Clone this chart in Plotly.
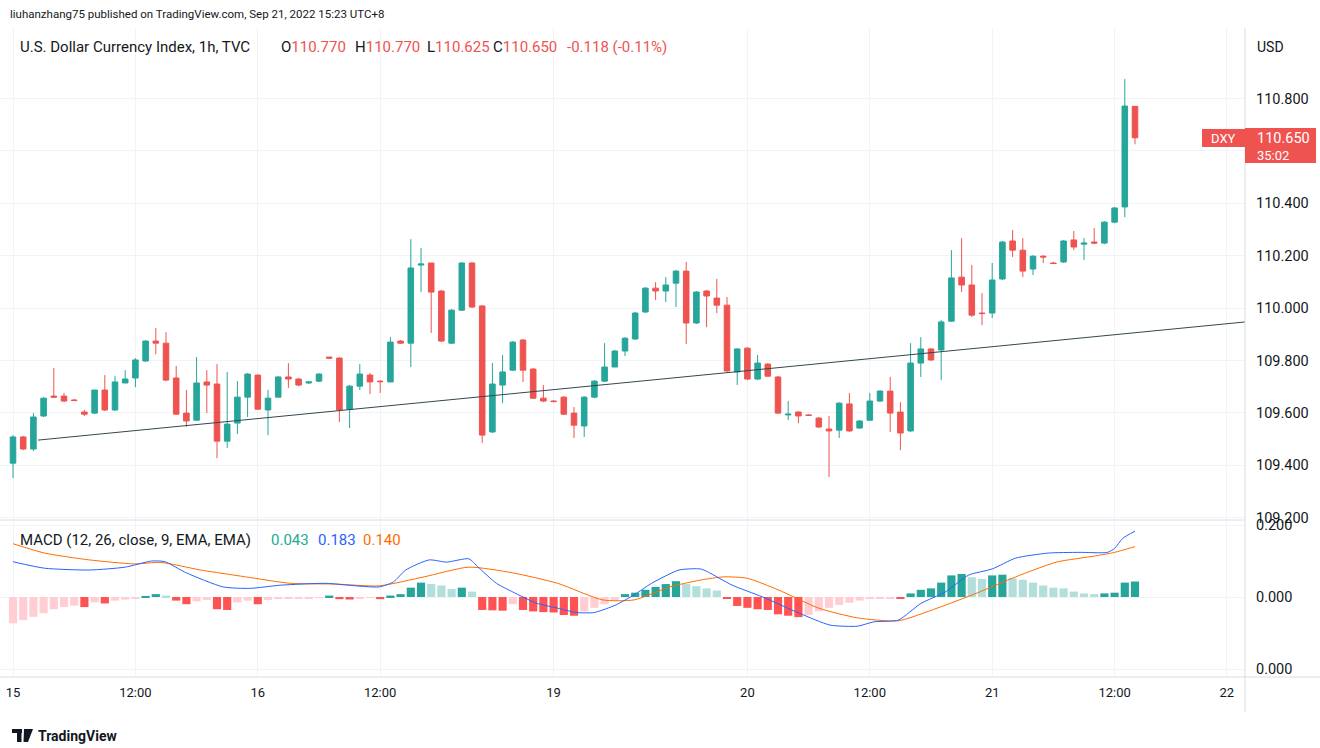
import plotly.graph_objects as go

# hourly DXY bars, index 0 = Sep 15 00:00 (UTC+8); Fri close -> Mon open gap collapsed
bar_open = [
    109.408, 109.508, 109.462, 109.588, 109.664, 109.664, 109.649, 109.603, 109.599, 109.687,
    109.611, 109.714, 109.733, 109.798, 109.874, 109.866, 109.733, 109.599, 109.572, 109.718,
    109.710, 109.492, 109.561, 109.660, 109.744, 109.611, 109.660, 109.737, 109.729, 109.714,
    109.721, 109.813, 109.809, 109.614, 109.702, 109.744, 109.721, 109.718, 109.874, 109.866,
    110.164, 110.172, 110.065, 109.866, 109.992, 110.172, 110.008, 109.527, 109.706, 109.763,
    109.878, 109.767, 109.656, 109.645, 109.660, 109.599, 109.550, 109.660, 109.721, 109.775,
    109.836, 109.882, 109.985, 110.076, 110.065, 110.095, 110.141, 109.943, 110.065, 110.038,
    110.011, 109.756, 109.847, 109.729, 109.786, 109.737, 109.592, 109.603, 109.592, 109.580,
    109.538, 109.534, 109.634, 109.542, 109.572, 109.645, 109.683, 109.603, 109.531, 109.790,
    109.844, 109.840, 109.950, 110.118, 110.088, 109.981, 109.981, 110.111, 110.256, 110.221,
    110.149, 110.198, 110.172, 110.176, 110.260, 110.244, 110.252, 110.248, 110.328, 110.386,
    110.770,
]
bar_high = [
    109.515, 109.512, 109.599, 109.660, 109.771, 109.676, 109.653, 109.611, 109.687, 109.744,
    109.740, 109.763, 109.809, 109.878, 109.924, 109.908, 109.779, 109.687, 109.813, 109.763,
    109.786, 109.756, 109.721, 109.752, 109.748, 109.687, 109.740, 109.790, 109.733, 109.721,
    109.752, 109.813, 109.813, 109.706, 109.786, 109.752, 109.725, 109.889, 109.878, 110.263,
    110.229, 110.172, 110.069, 109.996, 110.176, 110.176, 110.011, 109.790, 109.821, 109.874,
    109.882, 109.771, 109.706, 109.649, 109.664, 109.622, 109.664, 109.725, 109.866, 109.840,
    109.889, 109.985, 110.080, 110.099, 110.118, 110.145, 110.176, 110.065, 110.069, 110.111,
    110.042, 109.847, 109.851, 109.821, 109.790, 109.740, 109.645, 109.607, 109.595, 109.584,
    109.588, 109.641, 109.676, 109.572, 109.676, 109.687, 109.737, 109.641, 109.866, 109.889,
    109.847, 109.954, 110.221, 110.267, 110.164, 110.057, 110.172, 110.256, 110.298, 110.267,
    110.202, 110.202, 110.176, 110.260, 110.294, 110.267, 110.305, 110.332, 110.386, 110.874,
    110.770,
]
bar_low = [
    109.351, 109.458, 109.454, 109.584, 109.660, 109.641, 109.645, 109.588, 109.595, 109.607,
    109.607, 109.714, 109.698, 109.794, 109.824, 109.721, 109.592, 109.546, 109.569, 109.599,
    109.427, 109.466, 109.519, 109.584, 109.611, 109.515, 109.660, 109.695, 109.702, 109.710,
    109.718, 109.805, 109.565, 109.542, 109.687, 109.672, 109.676, 109.718, 109.863, 109.775,
    110.061, 109.905, 109.870, 109.863, 109.989, 110.000, 109.485, 109.523, 109.637, 109.760,
    109.718, 109.653, 109.641, 109.641, 109.592, 109.504, 109.508, 109.656, 109.718, 109.775,
    109.817, 109.878, 109.981, 110.031, 110.023, 110.004, 109.863, 109.939, 109.927, 109.981,
    109.756, 109.706, 109.725, 109.725, 109.737, 109.595, 109.572, 109.561, 109.588, 109.542,
    109.355, 109.504, 109.527, 109.538, 109.569, 109.641, 109.527, 109.458, 109.527, 109.737,
    109.798, 109.725, 109.947, 110.061, 109.966, 109.935, 109.962, 110.107, 110.195, 110.118,
    110.126, 110.172, 110.168, 110.172, 110.221, 110.183, 110.244, 110.244, 110.324, 110.347,
    110.625,
]
bar_close = [
    109.508, 109.462, 109.584, 109.656, 109.660, 109.645, 109.647, 109.595, 109.687, 109.611,
    109.718, 109.729, 109.802, 109.874, 109.866, 109.725, 109.595, 109.569, 109.714, 109.706,
    109.492, 109.557, 109.660, 109.748, 109.614, 109.656, 109.737, 109.729, 109.706, 109.718,
    109.748, 109.809, 109.611, 109.702, 109.748, 109.718, 109.719, 109.870, 109.866, 110.153,
    110.168, 110.061, 109.874, 109.992, 110.172, 110.004, 109.515, 109.710, 109.756, 109.870,
    109.763, 109.656, 109.645, 109.643, 109.595, 109.553, 109.660, 109.721, 109.775, 109.836,
    109.885, 109.981, 110.076, 110.065, 110.088, 110.141, 109.943, 110.061, 110.046, 110.011,
    109.760, 109.844, 109.729, 109.790, 109.740, 109.599, 109.595, 109.588, 109.590, 109.546,
    109.531, 109.637, 109.531, 109.569, 109.645, 109.683, 109.599, 109.523, 109.790, 109.844,
    109.802, 109.947, 110.115, 110.088, 109.973, 109.979, 110.107, 110.252, 110.221, 110.141,
    110.198, 110.195, 110.170, 110.256, 110.233, 110.248, 110.248, 110.328, 110.382, 110.771,
    110.650,
]

# MACD histogram, one value per bar
macd_hist = [
    -0.073, -0.064, -0.055, -0.045, -0.034, -0.028, -0.024, -0.028, -0.015, -0.018,
    -0.010, -0.007, -0.004, 0.003, 0.008, 0.004, -0.010, -0.020, -0.012, -0.008,
    -0.034, -0.036, -0.015, -0.010, -0.020, -0.008, -0.006, -0.005, -0.004, -0.003,
    -0.002, 0.004, -0.006, -0.007, -0.003, -0.002, -0.006, 0.004, 0.008, 0.026,
    0.040, 0.036, 0.032, 0.022, 0.026, 0.015, -0.036, -0.037, -0.038, -0.020,
    -0.036, -0.040, -0.042, -0.043, -0.050, -0.052, -0.040, -0.030, -0.020, -0.010,
    0.008, 0.012, 0.020, 0.028, 0.036, 0.044, 0.036, 0.030, 0.024, 0.018,
    -0.005, -0.025, -0.030, -0.034, -0.036, -0.048, -0.052, -0.056, -0.050, -0.040,
    -0.030, -0.022, -0.016, -0.010, -0.006, -0.004, -0.003, -0.005, 0.010, 0.020,
    0.024, 0.040, 0.060, 0.064, 0.055, 0.050, 0.060, 0.062, 0.052, 0.048,
    0.040, 0.032, 0.026, 0.024, 0.015, 0.010, 0.008, 0.010, 0.012, 0.040,
    0.043,
]

# MACD / signal lines, read at sample bars
macd_idx = [0, 3.1, 7.5, 11, 13.6, 14.9, 17, 20.6, 23.2, 26.3, 30.7, 32.8, 35.9, 37.3,
            38.5, 40.8, 42.5, 44.7, 45.6, 47.4, 49, 51.3, 53.4, 55.2, 57, 59.1, 60.9,
            62.6, 65.3, 67.4, 68.1, 70.5, 73.5, 77.1, 80.1, 82.8, 84.4, 86.8, 89, 91.4,
            93.7, 96, 98.3, 101.5, 104.5, 107.3, 108, 108.8, 110]
macd_line = [0.098, 0.080, 0.075, 0.083, 0.100, 0.098, 0.067, 0.028, 0.024, 0.033, 0.038,
             0.033, 0.028, 0.042, 0.075, 0.103, 0.097, 0.106, 0.083, 0.038, 0.014, -0.017,
             -0.031, -0.043, -0.043, -0.022, 0.006, 0.038, 0.075, 0.078, 0.070, 0.033, 0.0,
             -0.045, -0.078, -0.081, -0.069, -0.064, -0.018, 0.014, 0.061, 0.078, 0.108,
             0.122, 0.124, 0.124, 0.135, 0.163, 0.183]
signal_idx = [0, 3.1, 7.5, 11.9, 14.5, 18.4, 22.8, 27.2, 31.6, 35.9, 40.3, 44.7, 49, 53.4,
              57.8, 60.9, 64.4, 67.4, 69.7, 72, 75.1, 79, 82.8, 86.8, 90.6, 94.5, 98.3,
              102.3, 106.1, 108, 110]
signal_line = [0.148, 0.122, 0.103, 0.092, 0.096, 0.075, 0.056, 0.038, 0.036, 0.031, 0.056,
               0.083, 0.067, 0.038, -0.008, -0.008, 0.028, 0.047, 0.056, 0.052, 0.019, -0.031,
               -0.058, -0.066, -0.031, 0.011, 0.056, 0.097, 0.114, 0.124, 0.140]

# trend line drawn on the chart (bar index, price)
trend_idx = [2.45, 120.8]
trend_px = [109.496, 109.947]

tick_idx = [0, 12, 24, 36, 53, 72, 84, 96, 108, 119]
tick_text = ["15", "12:00", "16", "12:00", "19", "20", "12:00", "21", "12:00", "22"]
price_ticks = [109.2, 109.4, 109.6, 109.8, 110.0, 110.2, 110.4, 110.6, 110.8]
# 110.600 sits under the last-price badge, so its label is blank
price_tick_text = ["109.200", "109.400", "109.600", "109.800", "110.000", "110.200",
                   "110.400", "", "110.800"]
macd_ticks = [0.2, 0.0, -0.2]
macd_tick_text = ["0.200", "0.000", "0.000"]

UP, DOWN = "#26a69a", "#ef5350"
INK = "#131722"
GRID = "#f2f3f7"
EDGE = "#d9dce3"
FONT = "Roboto"

# page geometry (px): plot spans x 0..1245, y 28..677, price/macd split at 520
W_PLOT, TOP, BOT, SPLIT = 1245.0, 28.0, 677.0, 520.0
H_PLOT = BOT - TOP


def px(x):
    return x / W_PLOT


def py(y):
    return (BOT - y) / H_PLOT


def hist_colors(vals):
    out = []
    prev = float("-inf")
    for v in vals:
        if v >= 0:
            out.append("#26a69a" if v > prev else "#b2dfdb")
        else:
            out.append("#ffcdd2" if v > prev else "#ff5252")
        prev = v
    return out


idx = list(range(len(bar_open)))

fig = go.Figure()
fig.add_trace(go.Candlestick(
    x=idx, open=bar_open, high=bar_high, low=bar_low, close=bar_close,
    increasing=dict(line=dict(color=UP, width=1), fillcolor=UP),
    decreasing=dict(line=dict(color=DOWN, width=1), fillcolor=DOWN),
    whiskerwidth=0, xaxis="x", yaxis="y", hoverinfo="skip",
))
fig.add_trace(go.Scatter(
    x=trend_idx, y=trend_px, mode="lines",
    line=dict(color="#34474f", width=1), xaxis="x", yaxis="y", hoverinfo="skip",
))
fig.add_trace(go.Bar(
    x=idx, y=macd_hist, marker=dict(color=hist_colors(macd_hist), line=dict(width=0)),
    width=0.8, xaxis="x2", yaxis="y2", hoverinfo="skip",
))
fig.add_trace(go.Scatter(
    x=signal_idx, y=signal_line, mode="lines", line=dict(color="#ff6d00", width=1, shape="spline", smoothing=0.6),
    xaxis="x2", yaxis="y2", hoverinfo="skip",
))
fig.add_trace(go.Scatter(
    x=macd_idx, y=macd_line, mode="lines", line=dict(color="#2962ff", width=1, shape="spline", smoothing=0.6),
    xaxis="x2", yaxis="y2", hoverinfo="skip",
))

x_range = [-13 / 10.2, (W_PLOT - 13) / 10.2]
split = py(SPLIT)
common_x = dict(range=x_range, tickvals=tick_idx, showgrid=True, gridcolor=GRID,
                zeroline=False, showline=False, fixedrange=True)

fig.update_layout(
    width=1320, height=748,
    margin=dict(l=0, r=1320 - W_PLOT, t=TOP, b=748 - BOT),
    paper_bgcolor="white", plot_bgcolor="white",
    showlegend=False, hovermode=False, boxgap=0.22,
    font=dict(family=FONT, color=INK, size=12),
    xaxis=dict(domain=[0, 1], anchor="y", showticklabels=False, ticks="",
               rangeslider=dict(visible=False), **common_x),
    xaxis2=dict(domain=[0, 1], anchor="y2", matches="x", ticktext=tick_text, ticks="",
                ticklabelstandoff=6, tickfont=dict(size=13, color=INK), **common_x),
    yaxis=dict(domain=[split, 1], side="right", range=[109.191, 111.069],
               tickvals=price_ticks, ticktext=price_tick_text,
               tickfont=dict(size=14.5, color=INK), ticks="", ticklabelstandoff=10,
               showgrid=True, gridcolor=GRID, zeroline=False, showline=False),
    yaxis2=dict(domain=[0, split], side="right", range=[-0.2222, 0.2139],
                tickvals=macd_ticks, ticktext=macd_tick_text,
                tickfont=dict(size=14.5, color=INK), ticks="", ticklabelstandoff=10,
                showgrid=True, gridcolor=GRID, zeroline=False, showline=False),
)

shapes = [
    dict(type="line", xref="paper", yref="paper", x0=0, x1=1, y0=split, y1=split,
         line=dict(color=EDGE, width=1)),
    dict(type="line", xref="paper", yref="paper", x0=0, x1=px(1320), y0=0, y1=0,
         line=dict(color=EDGE, width=1)),
    dict(type="line", xref="paper", yref="paper", x0=1, x1=1, y0=py(712), y1=1,
         line=dict(color=EDGE, width=1)),
    # last price badges
    dict(type="rect", xref="paper", yref="paper", x0=px(1202), x1=px(1245), y0=py(147), y1=py(129),
         fillcolor=DOWN, line=dict(width=0)),
    dict(type="rect", xref="paper", yref="paper", x0=px(1245), x1=px(1316), y0=py(163), y1=py(128),
         fillcolor=DOWN, line=dict(width=0)),
    # TradingView logo mark
    dict(type="rect", xref="paper", yref="paper", x0=px(12), x1=px(22), y0=py(733), y1=py(729),
         fillcolor=INK, line=dict(width=0)),
    dict(type="rect", xref="paper", yref="paper", x0=px(17), x1=px(21.5), y0=py(742), y1=py(729),
         fillcolor=INK, line=dict(width=0)),
    dict(type="path", xref="paper", yref="paper",
         path=f"M {px(24)} {py(729)} L {px(33)} {py(729)} L {px(28)} {py(742)} L {px(23.5)} {py(742)} Z",
         fillcolor=INK, line=dict(width=0)),
]


def note(x, y, text, size=12, color=INK, xanchor="left"):
    return dict(x=px(x), y=py(y), xref="paper", yref="paper", text=text, showarrow=False,
                xanchor=xanchor, yanchor="middle", font=dict(size=size, color=color, family=FONT))


def red(s):
    return f"<span style='color:{DOWN}'>{s}</span>"


annotations = [
    note(8, 14, "liuhanzhang75 published on TradingView.com, Sep 21, 2022 15:23 UTC+8", size=11.5),
    note(18, 47, "U.S. Dollar Currency Index, 1h, TVC", size=15),
    note(279, 47, "O" + red("110.770"), size=15),
    note(353, 47, "H" + red("110.770"), size=15),
    note(425, 47, "L" + red("110.625"), size=15),
    note(491, 47, "C" + red("110.650"), size=15),
    note(565, 47, red("-0.118 (-0.11%)"), size=15),
    note(1255, 47, "USD", size=14),
    note(18, 540, "MACD (12, 26, close, 9, EMA, EMA)", size=15),
    note(269, 540, "0.043", size=15, color="#22ab94"),
    note(316, 540, "0.183", size=15, color="#2962ff"),
    note(361, 540, "0.140", size=15, color="#ff6d00"),
    note(1223, 138, "DXY", size=13, color="white", xanchor="center"),
    note(1255, 138, "110.650", size=14.5, color="white"),
    note(1255, 155, "35:02", size=13, color="white"),
    note(36, 736, "<b>TradingView</b>", size=14),
]

fig.update_layout(shapes=shapes, annotations=annotations)
fig.write_html("out.html", config={"displayModeBar": False},
               post_script="document.body.style.margin='0px';")
